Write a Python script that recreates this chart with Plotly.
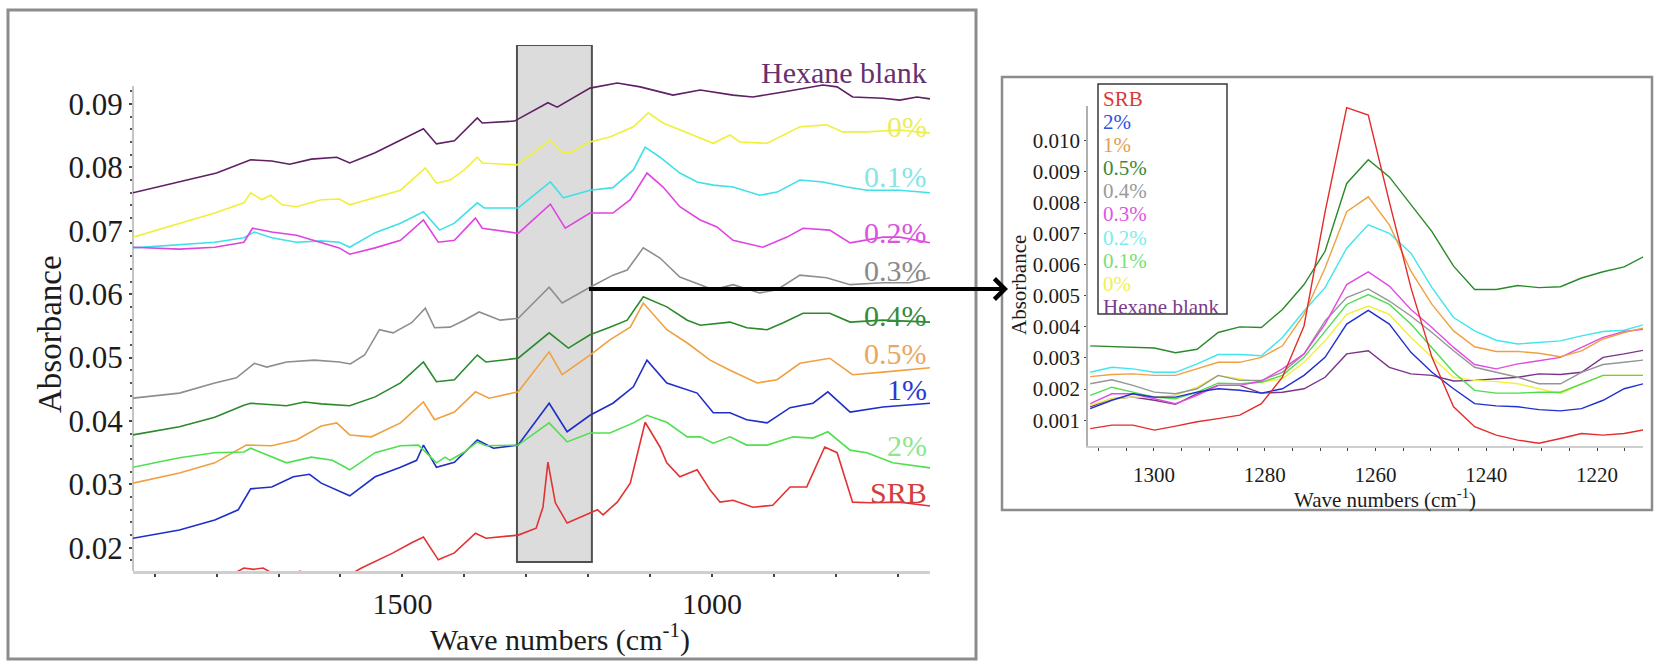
import plotly.graph_objects as go

W, H = 1657, 661
FONT = "Liberation Serif"

# ---------------- main spectra: wavenumber (cm-1) and absorbance ----------------
hex_x = [1935, 1860, 1800, 1745, 1711, 1682, 1647, 1606, 1585, 1544, 1503, 1466, 1445, 1416, 1379, 1371, 1319,
         1265, 1250, 1197, 1153, 1116, 1063, 1019, 966, 934, 885, 821, 798, 773, 724, 697, 669, 648]
hex_y = [0.0760, 0.0777, 0.0791, 0.0812, 0.0810, 0.0805, 0.0813, 0.0816, 0.0807, 0.0823, 0.0843, 0.0861, 0.0837,
         0.0842, 0.0878, 0.0870, 0.0873, 0.0902, 0.0895, 0.0925, 0.0933, 0.0927, 0.0914, 0.0922, 0.0914, 0.0911,
         0.0919, 0.0930, 0.0927, 0.0911, 0.0909, 0.0906, 0.0911, 0.0908]

p0_x = [1935, 1860, 1803, 1756, 1745, 1727, 1713, 1694, 1671, 1631, 1602, 1585, 1544, 1503, 1463, 1445, 1423, 1400,
        1379, 1371, 1315, 1261, 1242, 1229, 1197, 1165, 1127, 1103, 1079, 1040, 998, 971, 955, 911, 858, 815, 789,
        750, 697, 648]
p0_y = [0.0690, 0.0712, 0.0728, 0.0744, 0.0760, 0.0749, 0.0756, 0.0741, 0.0738, 0.0749, 0.0750, 0.0741, 0.0752,
        0.0764, 0.0799, 0.0775, 0.0780, 0.0796, 0.0816, 0.0807, 0.0804, 0.0843, 0.0823, 0.0823, 0.0840, 0.0848,
        0.0864, 0.0886, 0.0870, 0.0854, 0.0838, 0.0851, 0.0840, 0.0838, 0.0864, 0.0867, 0.0856, 0.0856, 0.0859,
        0.0854]

p01_x = [1935, 1860, 1803, 1756, 1739, 1711, 1671, 1631, 1602, 1585, 1544, 1503, 1466, 1440, 1416, 1379, 1368,
         1313, 1261, 1240, 1197, 1160, 1127, 1108, 1084, 1052, 1024, 998, 966, 923, 895, 858, 821, 782, 750, 697, 648]
p01_y = [0.0673, 0.0678, 0.0682, 0.0689, 0.0698, 0.0689, 0.0682, 0.0684, 0.0682, 0.0674, 0.0697, 0.0712, 0.0730,
         0.0701, 0.0712, 0.0744, 0.0736, 0.0736, 0.0777, 0.0752, 0.0764, 0.0768, 0.0796, 0.0832, 0.0816, 0.0791,
         0.0777, 0.0772, 0.0769, 0.0756, 0.0761, 0.0780, 0.0777, 0.0769, 0.0764, 0.0764, 0.0760]

p02_x = [1935, 1860, 1803, 1756, 1742, 1711, 1671, 1631, 1602, 1585, 1544, 1503, 1466, 1442, 1416, 1382, 1371,
         1313, 1261, 1237, 1197, 1160, 1132, 1105, 1079, 1052, 1019, 992, 966, 918, 879, 853, 810, 777, 724, 697, 648]
p02_y = [0.0674, 0.0671, 0.0674, 0.0682, 0.0704, 0.0698, 0.0693, 0.0681, 0.0673, 0.0663, 0.0673, 0.0685, 0.0717,
         0.0682, 0.0685, 0.0720, 0.0704, 0.0696, 0.0742, 0.0704, 0.0728, 0.0728, 0.0749, 0.0791, 0.0769, 0.0738,
         0.0717, 0.0706, 0.0685, 0.0674, 0.0690, 0.0704, 0.0701, 0.0681, 0.0690, 0.0690, 0.0681]

p03_x = [1935, 1860, 1803, 1768, 1739, 1719, 1687, 1642, 1602, 1584, 1561, 1537, 1515, 1485, 1463, 1448, 1423,
         1400, 1376, 1342, 1313, 1263, 1242, 1197, 1160, 1137, 1111, 1084, 1052, 1019, 998, 966, 923, 895, 858,
         815, 777, 724, 681, 648]
p03_y = [0.0436, 0.0444, 0.0460, 0.0468, 0.0491, 0.0485, 0.0493, 0.0496, 0.0493, 0.0490, 0.0504, 0.0544, 0.0539,
         0.0555, 0.0578, 0.0547, 0.0548, 0.0559, 0.0572, 0.0559, 0.0562, 0.0611, 0.0586, 0.0611, 0.0630, 0.0638,
         0.0673, 0.0657, 0.0627, 0.0615, 0.0607, 0.0615, 0.0602, 0.0607, 0.0630, 0.0626, 0.0615, 0.0618, 0.0618,
         0.0626]

p04_x = [1935, 1860, 1803, 1756, 1745, 1687, 1658, 1631, 1585, 1544, 1503, 1466, 1445, 1416, 1379, 1365, 1313,
         1263, 1232, 1197, 1165, 1137, 1111, 1073, 1040, 1019, 971, 944, 911, 885, 853, 810, 777, 724, 648]
p04_y = [0.0378, 0.0391, 0.0406, 0.0425, 0.0428, 0.0424, 0.0430, 0.0427, 0.0424, 0.0438, 0.0460, 0.0493, 0.0462,
         0.0465, 0.0504, 0.0493, 0.0499, 0.0539, 0.0515, 0.0536, 0.0548, 0.0559, 0.0596, 0.0580, 0.0559, 0.0551,
         0.0556, 0.0547, 0.0544, 0.0555, 0.0570, 0.0570, 0.0556, 0.0559, 0.0556]

p05_x = [1935, 1860, 1803, 1752, 1711, 1671, 1631, 1606, 1585, 1550, 1503, 1466, 1448, 1416, 1382, 1360, 1313,
         1263, 1242, 1197, 1165, 1132, 1111, 1073, 1040, 1003, 971, 927, 895, 858, 810, 773, 724, 648]
p05_y = [0.0302, 0.0318, 0.0334, 0.0362, 0.0361, 0.0370, 0.0392, 0.0397, 0.0378, 0.0375, 0.0397, 0.0430, 0.0402,
         0.0414, 0.0446, 0.0436, 0.0446, 0.0509, 0.0473, 0.0504, 0.0528, 0.0548, 0.0586, 0.0544, 0.0523, 0.0496,
         0.0480, 0.0460, 0.0465, 0.0491, 0.0499, 0.0473, 0.0477, 0.0484]

p1_x = [1935, 1860, 1803, 1765, 1745, 1711, 1676, 1650, 1631, 1585, 1544, 1503, 1477, 1466, 1445, 1416, 1379,
        1353, 1313, 1263, 1234, 1197, 1160, 1127, 1105, 1073, 1024, 998, 971, 944, 911, 874, 837, 813, 777, 724, 648]
p1_y = [0.0215, 0.0228, 0.0244, 0.0260, 0.0293, 0.0296, 0.0312, 0.0316, 0.0302, 0.0282, 0.0312, 0.0327, 0.0338,
        0.0362, 0.0327, 0.0335, 0.0370, 0.0357, 0.0362, 0.0428, 0.0383, 0.0409, 0.0428, 0.0454, 0.0496, 0.0460,
        0.0444, 0.0413, 0.0413, 0.0402, 0.0397, 0.0421, 0.0428, 0.0446, 0.0414, 0.0422, 0.0428]

p2_x = [1935, 1860, 1803, 1756, 1745, 1711, 1687, 1647, 1613, 1585, 1544, 1503, 1474, 1445, 1431, 1423, 1400,
        1379, 1365, 1313, 1263, 1234, 1197, 1165, 1127, 1105, 1073, 1040, 1019, 998, 971, 944, 911, 869, 837, 813,
        777, 750, 708, 648]
p2_y = [0.0327, 0.0342, 0.0350, 0.0351, 0.0357, 0.0343, 0.0334, 0.0343, 0.0338, 0.0323, 0.0350, 0.0361, 0.0362,
        0.0334, 0.0343, 0.0338, 0.0351, 0.0367, 0.0361, 0.0362, 0.0397, 0.0367, 0.0381, 0.0381, 0.0397, 0.0409,
        0.0398, 0.0375, 0.0375, 0.0365, 0.0375, 0.0362, 0.0362, 0.0375, 0.0373, 0.0383, 0.0354, 0.0350, 0.0334,
        0.0326]

srb_x = [1935, 1860, 1790, 1756, 1740, 1725, 1700, 1665, 1631, 1600, 1566, 1515, 1485, 1466, 1442, 1416, 1382,
         1365, 1313, 1284, 1273, 1265, 1253, 1234, 1197, 1185, 1176, 1153, 1132, 1108, 1084, 1073, 1052, 1024, 1003,
         987, 966, 934, 902, 874, 847, 818, 798, 773, 745, 697, 648]
srb_y = [0.0110, 0.0125, 0.0150, 0.0168, 0.0166, 0.0168, 0.0155, 0.0163, 0.0152, 0.0150, 0.0168, 0.0192, 0.0208,
         0.0217, 0.0181, 0.0192, 0.0223, 0.0215, 0.0220, 0.0231, 0.0264, 0.0335, 0.0271, 0.0239, 0.0255, 0.0260,
         0.0252, 0.0272, 0.0302, 0.0398, 0.0359, 0.0334, 0.0312, 0.0323, 0.0291, 0.0272, 0.0275, 0.0264, 0.0267,
         0.0296, 0.0296, 0.0359, 0.0350, 0.0272, 0.0271, 0.0272, 0.0266]

main_names = ["Hexane blank", "0%", "0.1%", "0.2%", "0.3%", "0.4%", "0.5%", "1%", "2%", "SRB"]
main_xs = [hex_x, p0_x, p01_x, p02_x, p03_x, p04_x, p05_x, p1_x, p2_x, srb_x]
main_ys = [hex_y, p0_y, p01_y, p02_y, p03_y, p04_y, p05_y, p1_y, p2_y, srb_y]
main_colors = ["#5e1f63", "#f0f03a", "#3fe0e8", "#e044e0", "#8e8e8e", "#2a8a2a", "#f0a040", "#1f2fc8",
               "#4fe04f", "#e23232"]
label_colors = ["#67306f", "#ecec60", "#86e6e6", "#dc55dc", "#8a8a8a", "#3a8a3a", "#e8a862", "#2a3ad0",
                "#8ee68e", "#d04040"]
label_y = [0.0950, 0.0864, 0.0785, 0.0697, 0.0638, 0.0567, 0.0507, 0.0449, 0.0362, 0.0288]

# highlighted region (cm-1) shown enlarged in the inset
box_x = [1315, 1194]

# ---------------- inset spectra (1310-1210 cm-1) ----------------
inset_x = [1311.5, 1307.6, 1303.8, 1299.9, 1296.1, 1292.2, 1288.4, 1284.5, 1280.6, 1276.8, 1272.9, 1269.1, 1265.2,
           1261.3, 1257.5, 1253.6, 1249.8, 1245.9, 1242.1, 1238.2, 1234.3, 1230.5, 1226.6, 1222.8, 1218.9, 1215.1,
           1211.2]
in_srb = [0.00073, 0.00084, 0.00084, 0.00068, 0.00081, 0.00095, 0.00105, 0.00116, 0.00153, 0.00238, 0.00403,
          0.00770, 0.01105, 0.01081, 0.00802, 0.00526, 0.00302, 0.00143, 0.00079, 0.00052, 0.00036, 0.00026,
          0.00041, 0.00057, 0.00052, 0.00057, 0.00070]
in_2 = [0.00137, 0.00164, 0.00185, 0.00174, 0.00174, 0.00190, 0.00201, 0.00196, 0.00187, 0.00201, 0.00244,
        0.00302, 0.00409, 0.00453, 0.00409, 0.00318, 0.00254, 0.00201, 0.00153, 0.00146, 0.00143, 0.00134,
        0.00130, 0.00137, 0.00164, 0.00201, 0.00219]
in_1 = [0.00240, 0.00247, 0.00249, 0.00244, 0.00244, 0.00265, 0.00286, 0.00286, 0.00302, 0.00339, 0.00440,
        0.00589, 0.00770, 0.00818, 0.00728, 0.00579, 0.00472, 0.00387, 0.00336, 0.00321, 0.00321, 0.00315,
        0.00304, 0.00323, 0.00361, 0.00382, 0.00398]
in_05 = [0.00339, 0.00337, 0.00334, 0.00332, 0.00317, 0.00328, 0.00382, 0.00400, 0.00398, 0.00456, 0.00536,
         0.00643, 0.00861, 0.00937, 0.00882, 0.00791, 0.00706, 0.00595, 0.00520, 0.00520, 0.00533, 0.00526,
         0.00529, 0.00557, 0.00577, 0.00593, 0.00629]
in_04 = [0.00217, 0.00230, 0.00212, 0.00190, 0.00185, 0.00201, 0.00244, 0.00228, 0.00228, 0.00254, 0.00313,
         0.00419, 0.00494, 0.00522, 0.00483, 0.00435, 0.00382, 0.00323, 0.00270, 0.00254, 0.00238, 0.00217,
         0.00217, 0.00254, 0.00279, 0.00286, 0.00294]
in_03 = [0.00153, 0.00185, 0.00185, 0.00169, 0.00153, 0.00180, 0.00212, 0.00212, 0.00226, 0.00265, 0.00313,
         0.00409, 0.00536, 0.00577, 0.00531, 0.00456, 0.00398, 0.00334, 0.00279, 0.00265, 0.00281, 0.00291,
         0.00302, 0.00334, 0.00366, 0.00385, 0.00393]
in_02 = [0.00254, 0.00270, 0.00265, 0.00254, 0.00254, 0.00281, 0.00311, 0.00311, 0.00307, 0.00366, 0.00451,
         0.00526, 0.00653, 0.00728, 0.00701, 0.00637, 0.00526, 0.00430, 0.00387, 0.00357, 0.00345, 0.00350,
         0.00355, 0.00371, 0.00385, 0.00389, 0.00409]
in_01 = [0.00180, 0.00206, 0.00190, 0.00174, 0.00169, 0.00190, 0.00219, 0.00217, 0.00222, 0.00244, 0.00302,
         0.00387, 0.00472, 0.00504, 0.00472, 0.00409, 0.00334, 0.00254, 0.00196, 0.00187, 0.00187, 0.00190,
         0.00190, 0.00217, 0.00244, 0.00244, 0.00244]
in_0 = [0.00148, 0.00169, 0.00174, 0.00174, 0.00180, 0.00206, 0.00244, 0.00233, 0.00222, 0.00233, 0.00286,
        0.00355, 0.00440, 0.00467, 0.00440, 0.00366, 0.00302, 0.00238, 0.00228, 0.00224, 0.00217, 0.00201,
        0.00185, 0.00217, 0.00244, 0.00244, 0.00244]
in_hex = [0.00143, 0.00169, 0.00174, 0.00164, 0.00151, 0.00185, 0.00212, 0.00212, 0.00187, 0.00190, 0.00201,
          0.00238, 0.00313, 0.00323, 0.00270, 0.00249, 0.00244, 0.00226, 0.00228, 0.00233, 0.00238, 0.00249,
          0.00247, 0.00254, 0.00302, 0.00313, 0.00326]

inset_names = ["SRB", "2%", "1%", "0.5%", "0.4%", "0.3%", "0.2%", "0.1%", "0%", "Hexane blank"]
inset_ys = [in_srb, in_2, in_1, in_05, in_04, in_03, in_02, in_01, in_0, in_hex]
inset_colors = ["#e52b2b", "#1f2fd0", "#f0a040", "#2a8a2a", "#959595", "#e24ce2", "#3fe6ee", "#4fdc4f",
                "#f2f03a", "#7a3488"]
inset_legend_colors = ["#d83a3a", "#3050e0", "#e0a050", "#3a8a3a", "#9a9a9a", "#e055e0", "#7aeeee", "#78e078",
                       "#f0f050", "#7a3a8c"]

# ---------------- figure ----------------
fig = go.Figure()

for name, xs, ys, col in zip(main_names, main_xs, main_ys, main_colors):
    fig.add_trace(go.Scatter(x=xs, y=ys, mode="lines", name=name, line=dict(color=col, width=1.6),
                             xaxis="x", yaxis="y", showlegend=False))

draw_order = [9, 8, 7, 6, 4, 5, 3, 2, 1, 0]
for i in draw_order:
    fig.add_trace(go.Scatter(x=inset_x, y=inset_ys[i], mode="lines", name=inset_names[i],
                             line=dict(color=inset_colors[i], width=1.4),
                             xaxis="x2", yaxis="y2", showlegend=False))

tick_font = dict(family=FONT, size=30, color="#1c1c1c")
small_font = dict(family=FONT, size=21, color="#1c1c1c")

# minor tick positions along the main y axis (stop at the axis top, below the band top)
y_minor = [round(0.018 + 0.002 * k, 3) for k in range(38)]

fig.update_layout(
    width=W, height=H,
    margin=dict(l=0, r=0, t=0, b=0),
    paper_bgcolor="white", plot_bgcolor="rgba(0,0,0,0)",
    font=dict(family=FONT),
    xaxis=dict(domain=[133 / W, 930 / W], range=[1935, 648], anchor="y",
               tick0=1000, dtick=500, ticks="outside", ticklen=3, tickwidth=1.5, tickcolor="#444",
               minor=dict(dtick=100, ticks="outside", ticklen=3, tickwidth=1.5, tickcolor="#444"),
               showline=True, linecolor="#cfcfcf", linewidth=3, showgrid=False, zeroline=False,
               tickfont=tick_font, ticklabelstandoff=1),
    yaxis=dict(domain=[90 / H, 616 / H], range=[0.01634, 0.0993], anchor="x",
               tickvals=[0.02, 0.03, 0.04, 0.05, 0.06, 0.07, 0.08, 0.09],
               tickformat=".2f", ticks="outside", ticklen=3, tickwidth=1.5, tickcolor="#444",
               minor=dict(tickmode="array", tickvals=y_minor, ticks="outside", ticklen=2, tickwidth=1.5,
                          tickcolor="#555"),
               showline=False, showgrid=False, zeroline=False, tickfont=dict(family=FONT, size=31, color="#1c1c1c")),
    xaxis2=dict(domain=[1088 / W, 1643 / W], range=[1311.9, 1211.7], anchor="y2",
                tick0=1300, dtick=20, ticks="outside", ticklen=3, tickwidth=1.2, tickcolor="#444",
                minor=dict(dtick=5, ticks="outside", ticklen=3, tickwidth=1.2, tickcolor="#444"),
                showline=True, linecolor="#cfcfcf", linewidth=2, showgrid=False, zeroline=False,
                tickfont=small_font, ticklabelstandoff=6),
    yaxis2=dict(domain=[215 / H, 555 / H], range=[0.00017, 0.0111], anchor="x2",
                tickvals=[0.001, 0.002, 0.003, 0.004, 0.005, 0.006, 0.007, 0.008, 0.009, 0.010],
                tickformat=".3f", ticks="outside", ticklen=2, tickwidth=1.2, tickcolor="#444",
                showline=True, linecolor="#b0b0b0", linewidth=1.5, showgrid=False, zeroline=False,
                tickfont=small_font),
)

shapes = [
    # outer frame of the main panel
    dict(type="rect", xref="paper", yref="paper", x0=8 / W, x1=976 / W, y0=2 / H, y1=651 / H,
         line=dict(color="#8c8c8c", width=3), fillcolor="rgba(0,0,0,0)", layer="above"),
    # outer frame of the inset panel
    dict(type="rect", xref="paper", yref="paper", x0=1002 / W, x1=1652 / W, y0=151 / H, y1=584 / H,
         line=dict(color="#8c8c8c", width=2.5), fillcolor="rgba(0,0,0,0)", layer="above"),
    # highlighted band
    dict(type="rect", xref="x", yref="y", x0=box_x[0], x1=box_x[1], y0=0.01776, y1=0.0993,
         line=dict(color="#505050", width=2), fillcolor="#dcdcdc", layer="below"),
    # main y-axis line (stops below the top of the band)
    dict(type="line", xref="x domain", yref="y domain", x0=0, x1=0, y0=0, y1=0.922,
         line=dict(color="#c4c4c4", width=2), layer="below"),
    # inset legend frame
    dict(type="rect", xref="paper", yref="paper", x0=1098 / W, x1=1227 / W, y0=347 / H, y1=577 / H,
         line=dict(color="#3a3a3a", width=1.5), fillcolor="white", layer="above"),
]
fig.update_layout(shapes=shapes)

ann = []
# curve labels on the right of the main panel
for name, yv, col in zip(main_names, label_y, label_colors):
    ann.append(dict(xref="x", yref="y", x=650, y=yv, text=name, showarrow=False, xanchor="right",
                    yanchor="middle", font=dict(family=FONT, size=30, color=col)))
# axis titles
ann.append(dict(xref="paper", yref="paper", x=560 / W, y=(H - 637) / H, text="Wave numbers (cm<sup>-1</sup>)",
                showarrow=False, xanchor="center", yanchor="middle", font=dict(family=FONT, size=30, color="#1c1c1c")))
ann.append(dict(xref="paper", yref="paper", x=50 / W, y=(H - 334) / H, text="Absorbance", textangle=-90,
                showarrow=False, xanchor="center", yanchor="middle", font=dict(family=FONT, size=33, color="#1c1c1c")))
ann.append(dict(xref="paper", yref="paper", x=1385 / W, y=(H - 498) / H, text="Wave numbers (cm<sup>-1</sup>)",
                showarrow=False, xanchor="center", yanchor="middle", font=dict(family=FONT, size=21, color="#1c1c1c")))
ann.append(dict(xref="paper", yref="paper", x=1019 / W, y=(H - 285) / H, text="Absorbance", textangle=-90,
                showarrow=False, xanchor="center", yanchor="middle", font=dict(family=FONT, size=21, color="#1c1c1c")))
# inset legend entries (text only, coloured)
for i, (name, col) in enumerate(zip(inset_names, inset_legend_colors)):
    ann.append(dict(xref="paper", yref="paper", x=1101 / W, y=(H - (99 + i * 23.1)) / H, text=name,
                    showarrow=False, xanchor="left", yanchor="middle", font=dict(family=FONT, size=21, color=col)))
# arrow from the highlighted band to the inset
ann.append(dict(xref="paper", yref="paper", x=1008 / W, y=(H - 289) / H, text=" ", showarrow=True,
                axref="pixel", ayref="pixel", ax=-421, ay=0, arrowhead=4, arrowsize=1.0, arrowwidth=4,
                arrowcolor="black", standoff=0, startstandoff=0, font=dict(size=2)))
fig.update_layout(annotations=ann)

fig.write_html("out.html")
